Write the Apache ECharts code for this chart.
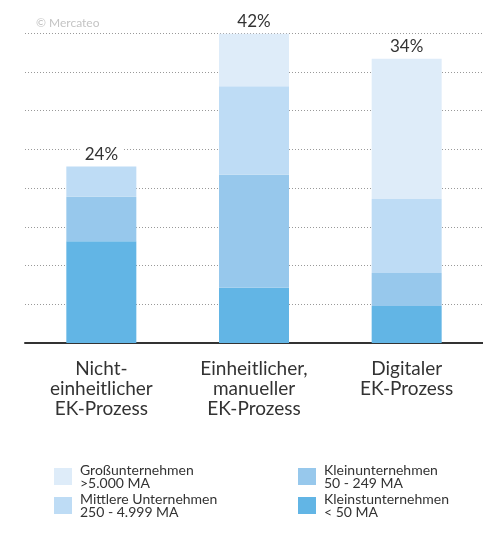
<!DOCTYPE html>
<html>
<head>
<meta charset="utf-8">
<script src="https://cdn.jsdelivr.net/npm/echarts@6/dist/echarts.min.js"></script>
<style>html,body{margin:0;padding:0;background:#fff}#c{width:483px;height:550px}</style>
</head>
<body>
<div id="c"></div>
<script>
const categories = ['Nicht-\neinheitlicher\nEK-Prozess', 'Einheitlicher,\nmanueller\nEK-Prozess', 'Digitaler\nEK-Prozess'];
const totals = ['24%', '42%', '34%'];
const kleinst = [13.8, 7.5, 5.0];
const klein = [6.0, 15.3, 4.5];
const mittlere = [4.1, 12.0, 10.0];
const gross = [0, 7.1, 19.0];
const seriesNames = ['Kleinstunternehmen', 'Kleinunternehmen', 'Mittlere Unternehmen', 'Großunternehmen'];
const seriesSub = ['< 50 MA', '50 - 249 MA', '250 - 4.999 MA', '>5.000 MA'];
const colors = ['#62b5e5', '#97c8ec', '#bedcf5', '#deecf9'];
const values = [kleinst, klein, mittlere, gross];

const chart = echarts.init(document.getElementById('c'));
const series = values.map((v, i) => ({
  name: seriesNames[i],
  type: 'bar',
  stack: 'all',
  barWidth: 70,
  data: v,
  itemStyle: { color: colors[i] },
  emphasis: { disabled: true },
  label: i === 3 ? {
    show: true, position: 'top', distance: 4,
    formatter: p => totals[p.dataIndex],
    color: '#333', fontSize: 17, fontFamily: 'Lato',
    backgroundColor: '#fff', padding: [0, 5]
  } : { show: false }
}));
const legendFmt = n => n + '\n' + seriesSub[seriesNames.indexOf(n)];
const legendCommon = {
  orient: 'vertical', itemWidth: 18, itemHeight: 17, itemGap: 2,
  icon: 'rect', selectedMode: false, formatter: legendFmt,
  textStyle: { fontSize: 14, lineHeight: 13, color: '#333', fontFamily: 'Lato', padding: [0, 0, 0, 3] }
};
chart.setOption({
  animation: false,
  color: colors,
  title: { text: '© Mercateo', left: 31, top: 12, textStyle: { fontSize: 12, color: '#c4c4c4', fontWeight: 'normal', fontFamily: 'Lato' } },
  legend: [
    Object.assign({ left: 49, top: 458, data: [seriesNames[3], seriesNames[2]] }, legendCommon),
    Object.assign({ left: 293, top: 458, data: [seriesNames[1], seriesNames[0]] }, legendCommon)
  ],
  grid: { left: 25, right: 0, top: 33, bottom: 207 },
  xAxis: {
    type: 'category', data: categories,
    axisLine: { lineStyle: { color: '#333', width: 2 } },
    axisTick: { show: false },
    axisLabel: { color: '#333', fontSize: 19, lineHeight: 20, margin: 16, fontFamily: 'Lato', interval: 0 }
  },
  yAxis: {
    type: 'value', min: 0, max: 42, interval: 5.25,
    axisLabel: { show: false }, axisLine: { show: false }, axisTick: { show: false },
    splitLine: { lineStyle: { type: [1, 2], color: '#999', width: 1 } }
  },
  series: series
});
</script>
</body>
</html>
